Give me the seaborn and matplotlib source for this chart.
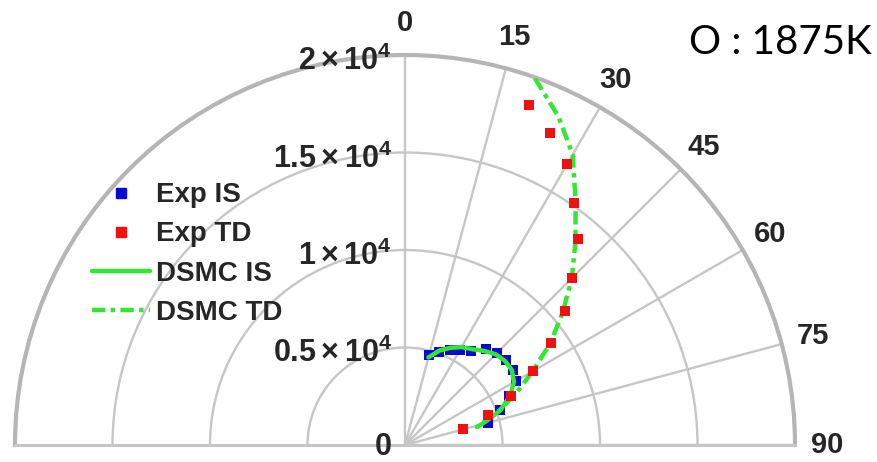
import numpy as np
import pandas as pd
import matplotlib
matplotlib.use("Agg")
import matplotlib.pyplot as plt
import matplotlib.transforms as mtransforms
from matplotlib.lines import Line2D
import seaborn as sns

# ---------------- data (angle in degrees from vertical, value in counts) ----------
exp_is_angle = [15, 20, 25, 30, 35, 40, 45, 50, 55, 60, 65, 70, 75]
exp_is_value = [4770, 5100, 5400, 5650, 5870, 6450, 6650, 6750, 6750, 6550, 5900, 5200, 4400]

exp_td_angle = [20, 25, 30, 35, 40, 45, 50, 55, 60, 65, 70, 75]
exp_td_value = [18550, 17630, 16640, 15120, 13770, 12110, 10680, 9130, 7550, 6000, 4510, 3080]

dsmc_is_angle = [15, 20, 25, 30, 35, 40, 45, 50, 55, 60, 65, 70, 72, 74, 76]
dsmc_is_value = [4650, 5150, 5500, 5800, 6000, 6300, 6580, 6700, 6690, 6450, 5950, 5200, 4700, 4250, 3800]

dsmc_td_angle = [19.5, 25, 30, 35, 40, 45, 50, 55, 60, 65, 70, 76]
dsmc_td_value = [19950, 18600, 17200, 15250, 13600, 12100, 10550, 9100, 7550, 6300, 5150, 3800]

theta_ticks = [0, 15, 30, 45, 60, 75, 90]
theta_labels = ["0", "15", "30", "45", "60", "75", "90"]
r_ticks = [0, 5000, 10000, 15000, 20000]
r_labels = ["0", r"$0.5\times10^4$", r"$1\times10^4$", r"$1.5\times10^4$", r"$2\times10^4$"]
series_names = ["Exp IS", "Exp TD", "DSMC IS", "DSMC TD"]
title_text = "O : 1875K"

# ---------------- style ----------------
sns.set_theme(style="white")
plt.rcParams["font.family"] = ["Liberation Sans", "DejaVu Sans"]
plt.rcParams["mathtext.fontset"] = "custom"
plt.rcParams["mathtext.rm"] = "Liberation Sans:bold"
plt.rcParams["mathtext.it"] = "Liberation Sans:bold"
plt.rcParams["mathtext.bf"] = "Liberation Sans:bold"

GRID = "#c6c6c6"
TEXT = "#262626"
GREEN = "#33e633"
RED = "#ee1111"
BLUE = "#0a0ad0"

W, H = 877, 462
cx, cy, R = 405, 445, 390  # pixel centre (from top) and outer radius
fig = plt.figure(figsize=(W / 100, H / 100), dpi=100)
# square box; matplotlib centres the half-disc wedge vertically inside it,
# so the origin sits a quarter of the box height above the bottom edge
ax = fig.add_axes([(cx - R) / W, (H - cy - R / 2) / H, 2 * R / W, 2 * R / H], projection="polar")
ax.set_theta_zero_location("N")
ax.set_theta_direction(-1)
ax.set_thetamin(-90)
ax.set_thetamax(90)
ax.set_ylim(0, 20000)

def to_df(a, v):
    return pd.DataFrame({"theta": np.deg2rad(a), "r": v})

d_eis = to_df(exp_is_angle, exp_is_value)
d_etd = to_df(exp_td_angle, exp_td_value)
d_dis = to_df(dsmc_is_angle, dsmc_is_value)
d_dtd = to_df(dsmc_td_angle, dsmc_td_value)

sns.scatterplot(data=d_eis, x="theta", y="r", ax=ax, marker="s", color=BLUE,
                s=60, linewidth=0, zorder=3, legend=False)
sns.lineplot(data=d_dis, x="theta", y="r", ax=ax, sort=False, estimator=None,
             color=GREEN, lw=3.2, zorder=4, legend=False)
sns.lineplot(data=d_dtd, x="theta", y="r", ax=ax, sort=False, estimator=None,
             color=GREEN, lw=3.2, zorder=4, legend=False,
             linestyle=(0, (3.0, 1.2, 1.0, 1.2)))
sns.scatterplot(data=d_etd, x="theta", y="r", ax=ax, marker="s", color=RED,
                s=60, linewidth=0, zorder=5, legend=False)
ax.set_xlabel("")
ax.set_ylabel("")

# grid
ax.set_thetagrids(theta_ticks, theta_labels, fontsize=21, fontweight="bold", color=TEXT)
ax.tick_params(axis="x", pad=10)
ax.set_rgrids(r_ticks[1:], labels=[""] * (len(r_ticks) - 1))
ax.grid(True, color=GRID, lw=1.7)
ax.spines["polar"].set_color("#b5b5b5")
ax.spines["polar"].set_linewidth(3)
for k in ("start", "end"):
    ax.spines[k].set_color(GRID)
    ax.spines[k].set_linewidth(2.2)
ax.spines["inner"].set_visible(False)

# radial labels left of the vertical line (the bottom "0" sits a little higher
# so it stays inside the canvas)
for rv, lab in zip(r_ticks, r_labels):
    dy = -10 if rv == 0 else -15
    off = mtransforms.ScaledTranslation(-13 / 100, dy / 100, fig.dpi_scale_trans)
    ax.text(0, rv, lab, transform=ax.transData + off, ha="right", va="baseline",
            fontsize=22, fontweight="bold", color=TEXT)

# legend
handles = [
    Line2D([], [], ls="none", marker="s", color=BLUE, markersize=7.5),
    Line2D([], [], ls="none", marker="s", color=RED, markersize=7.5),
    Line2D([], [], color=GREEN, lw=3.2),
    Line2D([], [], color=GREEN, lw=3.2, ls=(0, (3.0, 1.2, 1.0, 1.2))),
]
fig.legend(handles, series_names, loc="center left",
           bbox_to_anchor=(92 / W, (H - 254) / H), frameon=False,
           borderpad=0, borderaxespad=0, handlelength=2.1, handletextpad=0.2,
           labelspacing=0.47, prop={"weight": "bold", "size": 20})

fig.text(872 / W, (H - 42) / H, title_text, ha="right", va="center",
         fontsize=29, family=["Lato", "DejaVu Sans"], color="black")

fig.savefig("out.png", dpi=100)
